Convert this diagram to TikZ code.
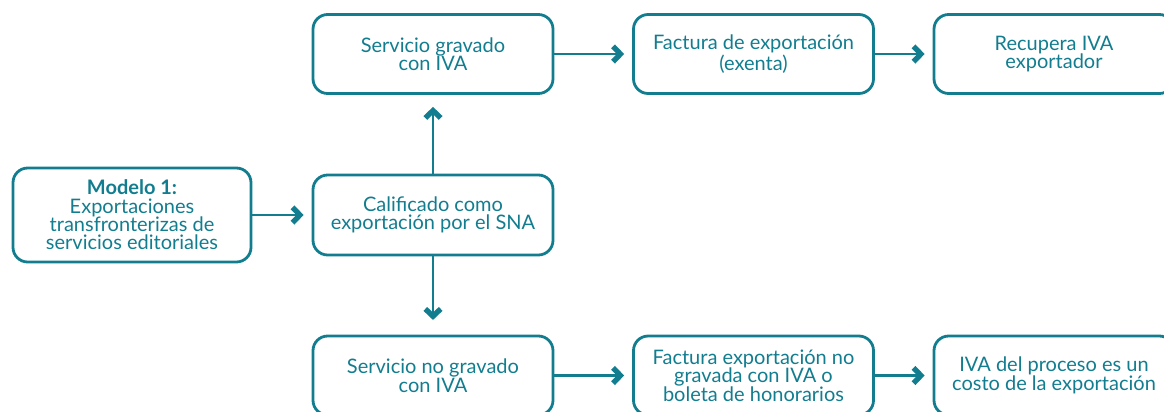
\documentclass[tikz,border=0pt]{standalone}
\usepackage{fontspec}
\setmainfont{Lato}
\usetikzlibrary{arrows.meta}
\definecolor{tealc}{RGB}{18,125,143}
\begin{document}
\begin{tikzpicture}[x=0.75pt,y=-0.75pt,
  box/.style={draw=tealc, line width=2.1pt, rounded corners=11pt, align=center, text=tealc,
    font=\fontsize{15}{13.8}\selectfont, minimum width=180pt, minimum height=59.25pt, inner sep=2pt},
  arr/.style={draw=tealc, line width=2.2pt, -{Straight Barb[length=5.5pt,width=11.5pt,line width=4pt]}}]
\useasboundingbox (0,0) rectangle (1164,411);
\clip (0,0) rectangle (1164,411);
\node[box, minimum width=178.5pt, minimum height=70.5pt] (m) at (132,215)
  {\textbf{Modelo 1:}\\Exportaciones\\transfronterizas de\\servicios editoriales};
\node[box, minimum height=60pt] (c) at (433,215) {Calificado como\\exportación por el SNA};
\node[box] (sg) at (433,54) {Servicio gravado\\con IVA};
\node[box] (fe) at (753.5,54) {Factura de exportación\\(exenta)};
\node[box] (ri) at (1054,54) {Recupera IVA\\exportador};
\node[box] (sn) at (433,375.5) {Servicio no gravado\\con IVA};
\node[box] (fn) at (753.5,375.5) {Factura exportación no\\gravada con IVA o\\boleta de honorarios};
\node[box] (ip) at (1054,375.5) {IVA del proceso es un\\costo de la exportación};
\draw[arr, shorten >=6pt] (m) -- (c);
\draw[arr, shorten >=6pt] (sg) -- (fe);
\draw[arr, shorten >=6pt] (fe) -- (ri);
\draw[arr, shorten >=6pt] (sn) -- (fn);
\draw[arr, shorten >=6pt] (fn) -- (ip);
\draw[arr, shorten >=9pt] (c) -- (sg);
\draw[arr, shorten >=11pt] (c) -- (sn);
\end{tikzpicture}
\end{document}
